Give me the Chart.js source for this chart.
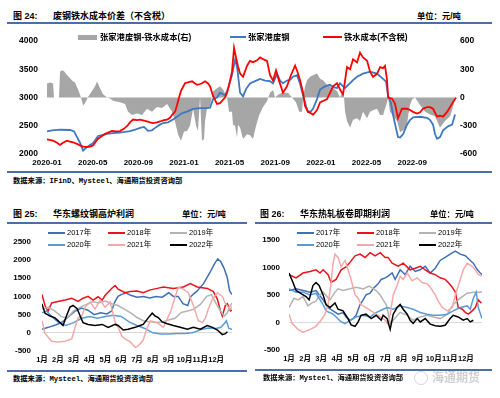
<!DOCTYPE html>
<html>
<head>
<meta charset="utf-8">
<script src="https://cdn.jsdelivr.net/npm/chart.js@4.4.0/dist/chart.umd.min.js"></script>
<style>
  body { margin: 0; background: #fff; }
  #page { position: relative; width: 500px; height: 398px; overflow: hidden;
          font-family: "Liberation Sans", "Noto Sans CJK SC", sans-serif; color: #000; }
  .t { position: absolute; white-space: nowrap; line-height: 12px; }
  .title { font-weight: bold; font-size: 9px; }
  .unit { font-weight: bold; font-size: 8.3px; }
  .rule { position: absolute; height: 2px; background: #4a6ea6; }
  .src { font-family: "Liberation Mono", "Noto Sans CJK SC", monospace; font-weight: bold; font-size: 7.3px; }
  .leg { font-size: 7.5px; }
  .leg24 { font-size: 8.3px; font-weight: bold; }
  .sw { position: absolute; height: 2px; }
  canvas { position: absolute; }
</style>
</head>
<body>
<div id="page">
  <!-- figure 24 -->
  <div class="t title" style="left:13px;top:10px">图 24:</div>
  <div class="t title" style="left:53px;top:10px">废钢铁水成本价差（不含税）</div>
  <div class="t unit" style="left:417px;top:10px">单位：元/吨</div>
  <div class="rule" style="left:7px;top:22px;width:485px"></div>
  <canvas id="c24" width="500" height="145" style="left:0;top:28px"></canvas>
  <div class="sw" style="left:78px;top:35px;width:19px;height:5px;background:#a6a6a6"></div>
  <div class="t leg24" style="left:100px;top:31px">张家港废钢-铁水成本(右)</div>
  <div class="sw" style="left:230px;top:36px;width:16px;background:#3d78c1"></div>
  <div class="t leg24" style="left:248px;top:31px">张家港废钢</div>
  <div class="sw" style="left:323px;top:36px;width:19px;background:#ff0000"></div>
  <div class="t leg24" style="left:344px;top:31px">铁水成本(不含税)</div>
  <div class="rule" style="left:7px;top:171px;width:485px"></div>
  <div class="t src" style="left:13px;top:175px">数据来源：IFinD、Mysteel、海通期货投资咨询部</div>

  <!-- figure 25 -->
  <div class="t title" style="left:13px;top:208px">图 25:</div>
  <div class="t title" style="left:53px;top:208px">华东螺纹钢高炉利润</div>
  <div class="t unit" style="left:182px;top:208px">单位：元/吨</div>
  <div class="rule" style="left:7px;top:222px;width:240px"></div>
  <canvas id="c25" width="250" height="143" style="left:0;top:226px"></canvas>
  <div id="leg25"></div>
  <div class="rule" style="left:7px;top:370px;width:240px"></div>
  <div class="t src" style="left:13px;top:373px">数据来源：Mysteel、海通期货投资咨询部</div>

  <!-- figure 26 -->
  <div class="t title" style="left:260px;top:208px">图 26:</div>
  <div class="t title" style="left:300px;top:208px">华东热轧板卷即期利润</div>
  <div class="t unit" style="left:430px;top:208px">单位：元/吨</div>
  <div class="rule" style="left:255px;top:222px;width:237px"></div>
  <canvas id="c26" width="250" height="143" style="left:250px;top:226px"></canvas>
  <div id="leg26"></div>
  <div class="rule" style="left:255px;top:369px;width:237px"></div>
  <div class="t src" style="left:263px;top:372px">数据来源：Mysteel、海通期货投资咨询部</div>
  <div style="position:absolute;left:414px;top:371px;width:12px;height:12px;border:1.5px solid #d4d4d4;border-radius:7px"></div>
  <div class="t" style="left:432px;top:371px;font-size:12px;line-height:14px;font-weight:bold;color:#d0d0d0">海通期货</div>
</div>

<script>
// ---- fig 24: months since 2020-01, value ----
const topTickLabels = ['2020-01', '2020-05', '2020-09', '2021-01', '2021-05', '2021-09', '2022-01', '2022-05', '2022-09'];

const scrapPrice = [[0,2400],[0.44,2420],[1.14,2430],[2.02,2425],[2.37,2400],[2.63,2300],[2.89,2200],[3.16,2060],
  [3.42,2110],[3.77,2160],[4.03,2190],[4.47,2320],[4.91,2340],[5.26,2356],[5.78,2370],[6.40,2380],[6.84,2390],
  [7.27,2407],[7.71,2430],[8.15,2463],[8.50,2480],[8.85,2410],[9.20,2420],[9.47,2463],[9.90,2520],[10.17,2548],
  [10.60,2560],[11.04,2610],[11.39,2660],[11.66,2700],[11.92,2730],[12.27,2750],[12.80,2800],[13.41,2814],
  [14.02,2814],[14.29,2820],[14.55,2970],[14.90,3000],[15.16,3085],[15.60,3040],[15.86,3150],[16.21,3400],
  [16.48,3670],[16.65,3550],[16.92,3085],[17.18,3020],[17.44,3150],[17.79,3250],[18.23,3290],[18.67,3330],
  [19.11,3300],[19.54,3290],[19.81,3250],[20.16,3420],[20.42,3300],[20.68,3254],[21.03,3300],[21.30,3311],
  [21.56,3370],[21.91,3395],[22.17,3250],[22.44,3034],[22.70,2850],[22.87,2746],[23.14,2760],[23.31,2802],
  [23.66,2972],[23.93,3141],[24.36,3198],[24.80,3226],[25.15,3180],[25.42,3170],[25.68,3254],[25.94,3200],
  [26.12,3170],[26.56,3254],[26.82,3310],[27.17,3367],[27.69,3424],[28.31,3460],[28.92,3424],[29.45,3330],
  [29.71,3283],[29.89,3034],[30.15,2900],[30.32,2700],[30.59,2450],[30.76,2300],[30.94,2293],[31.20,2350],
  [31.55,2520],[31.81,2600],[32.08,2650],[32.69,2660],[33.30,2640],[33.57,2600],[33.83,2520],[34.01,2350],
  [34.18,2270],[34.44,2300],[34.71,2420],[35.14,2490],[35.50,2520],[35.76,2700]];

const hotMetalCost = [[0,2260],[0.53,2237],[0.88,2200],[1.14,2160],[1.40,2200],[1.75,2237],[2.02,2220],[2.28,2208],
  [2.63,2180],[2.89,2152],[3.16,2130],[3.51,2124],[3.77,2130],[4.03,2152],[4.29,2220],[4.47,2271],[4.82,2320],
  [5.08,2356],[5.35,2380],[5.70,2407],[6.05,2400],[6.40,2407],[6.75,2450],[7.01,2492],[7.27,2560],[7.54,2610],
  [7.89,2600],[8.15,2610],[8.50,2590],[8.76,2576],[9.03,2560],[9.29,2548],[9.64,2560],[9.90,2576],[10.25,2600],
  [10.52,2610],[10.78,2640],[10.96,2695],[11.22,2750],[11.39,2864],[11.57,3000],[11.74,3118],[12.09,3254],
  [12.36,3270],[12.71,3288],[12.97,3250],[13.15,3226],[13.41,3240],[13.58,3254],[13.85,3288],[14.11,3250],
  [14.29,3198],[14.55,3028],[14.90,2887],[15.16,2900],[15.34,2943],[15.60,3000],[15.78,3085],[16.04,3300],
  [16.21,3458],[16.39,3880],[16.56,3712],[16.74,3550],[16.92,3424],[17.18,3367],[17.53,3565],[17.79,3650],
  [18.05,3627],[18.41,3660],[18.67,3712],[18.93,3680],[19.28,3650],[19.54,3400],[19.81,3300],[20.07,3480],
  [20.33,3300],[20.68,3085],[21.03,3200],[21.38,3400],[21.74,3565],[21.91,3480],[22.17,3311],[22.44,3085],
  [22.61,2850],[22.87,2746],[23.14,2720],[23.31,2695],[23.66,2780],[23.93,2915],[24.54,2972],[25.07,3198],
  [25.42,3254],[25.68,3141],[25.94,3056],[26.29,3540],[26.56,3500],[26.82,3678],[27.17,3620],[27.43,3797],
  [27.69,3712],[28.05,3650],[28.31,3458],[28.57,3367],[28.92,3420],[29.19,3540],[29.45,3520],[29.62,3560],
  [29.80,3311],[29.89,3000],[30.24,2980],[30.50,2887],[30.76,2632],[31.11,2802],[31.55,2802],[31.81,2780],
  [32.08,2746],[32.43,2717],[32.69,2740],[32.95,2802],[33.30,2830],[33.57,2830],[33.83,2802],[34.18,2661],
  [34.44,2680],[34.71,2661],[35.06,2746],[35.32,2830],[35.58,2915],[35.85,3000]];

const scrapSpread = [[0,150],[0.26,160],[0.53,150],[0.61,0],[1.05,0],[1.14,275],[1.31,290],[1.49,280],[1.75,240],
  [2.02,205],[2.28,170],[2.45,160],[2.72,85],[2.98,0],[3.16,-85],[3.33,-60],[3.59,5],[3.94,70],[4.21,120],
  [4.38,170],[4.65,100],[4.91,35],[5.26,0],[5.52,-10],[5.78,-35],[6.40,-50],[6.84,-68],[7.10,-150],[7.45,-185],
  [7.89,-170],[8.33,-185],[8.76,-120],[9.20,-150],[9.64,-100],[10.08,-110],[10.52,-68],[10.96,-150],[11.22,-255],
  [11.48,-390],[11.74,-460],[12.01,-360],[12.27,-356],[12.53,-300],[12.80,-120],[13.06,-300],[13.23,-356],
  [13.41,0],[13.58,-460],[13.76,-440],[13.85,-250],[14.02,-120],[14.29,-85],[14.55,68],[14.90,100],[15.16,120],
  [15.43,85],[15.78,0],[15.95,-150],[16.21,-150],[16.30,-290],[16.48,-300],[16.65,-424],[16.74,-290],[16.92,-320],
  [17.18,-440],[17.53,-390],[17.79,-400],[18.05,-440],[18.32,-300],[18.58,-190],[18.93,-100],[19.28,-40],
  [19.54,50],[19.81,80],[19.98,0],[20.25,30],[20.60,50],[21.12,50],[21.47,0],[21.82,-50],[22.09,-150],[22.35,-150],
  [22.44,0],[22.61,120],[22.79,185],[23.05,220],[23.31,237],[23.66,255],[23.93,200],[24.19,185],[24.54,135],
  [24.80,120],[25.07,100],[25.42,68],[25.68,0],[25.85,50],[26.03,0],[26.12,-150],[26.29,-250],[26.56,-320],
  [26.82,-237],[27.17,-220],[27.43,-250],[27.69,-150],[28.05,-220],[28.31,-150],[28.57,-135],[28.92,-120],
  [29.19,-185],[29.45,-185],[29.80,-50],[29.89,0],[30.06,-150],[30.32,-190],[30.68,-250],[30.94,-370],[31.20,-350],
  [31.55,-305],[31.64,-200],[31.81,-80],[31.99,-20],[32.25,0],[32.69,-80],[33.13,-150],[33.57,-180],[34.01,-200],
  [34.44,-320],[34.88,-250],[35.32,-200],[35.58,-100],[35.76,0]];

// ---- fig 25 / 26: month of year (0 = 1月初), profit ----
const monthLabels = ['1月', '2月', '3月', '4月', '5月', '6月', '7月', '8月', '9月', '10月', '11月', '12月'];
const yearNames = ['2017年', '2018年', '2019年', '2020年', '2021年', '2022年'];
const yearColors = ['#3f70b6', '#e8141b', '#b3b3b3', '#5b9bd5', '#f5a8a8', '#000000'];

const rebar2017 = [[0,100],[0.4,150],[0.9,220],[1.3,300],[1.7,450],[2.1,600],[2.5,680],[2.9,620],[3.3,500],[3.7,550],
  [4.1,520],[4.4,600],[4.6,850],[4.8,1000],[5.0,1050],[5.3,1100],[5.6,1030],[6.0,980],[6.4,1000],[6.8,960],[7.2,1000],
  [7.6,980],[8.0,1100],[8.3,1000],[8.6,1000],[8.9,800],[9.2,750],[9.4,1000],[9.8,1150],[10.2,1350],[10.6,1650],
  [10.9,1900],[11.1,2030],[11.3,1950],[11.5,1770],[11.7,1520],[11.85,1150],[12.0,1050]];
const rebar2018 = [[0,1050],[0.19,750],[0.38,590],[0.61,820],[1.01,860],[1.46,900],[1.88,950],[2.28,860],[2.59,950],
  [2.91,1000],[3.23,900],[3.54,990],[3.80,900],[3.99,1030],[4.43,1230],[4.62,1300],[4.81,1200],[5.25,1100],[5.57,1135],
  [6.01,1150],[6.39,1100],[6.84,1180],[7.28,1220],[7.66,1260],[8.29,1220],[8.92,1260],[9.37,1350],[9.81,1260],
  [10.44,1220],[10.82,1130],[11.08,920],[11.27,600],[11.39,460],[11.58,750],[11.71,800],[11.90,600],[12.0,620]];
const rebar2019 = [[0,650],[0.4,700],[0.8,600],[1.2,450],[1.6,400],[2.0,600],[2.4,700],[2.8,780],[3.2,850],[3.6,820],
  [4.0,870],[4.4,800],[4.8,750],[5.2,650],[5.6,550],[6.0,420],[6.4,330],[6.8,300],[7.2,280],[7.6,300],[8.0,350],
  [8.4,400],[8.8,560],[9.2,600],[9.6,650],[10.0,780],[10.4,1000],[10.7,1050],[11.0,800],[11.3,580],[11.5,460],
  [11.7,550],[11.9,750],[12.0,820]];
const rebar2020 = [[0,550],[0.3,600],[0.6,450],[1.0,300],[1.5,200],[2.0,280],[2.5,400],[3.0,450],[3.5,400],[4.0,450],
  [4.5,480],[5.0,450],[5.5,300],[6.0,200],[6.5,120],[7.0,0],[7.5,-30],[8.0,-30],[8.5,-20],[9.0,-20],[9.5,0],[10.0,80],
  [10.5,130],[11.0,120],[11.3,150],[11.5,250],[11.65,330],[11.8,120],[12.0,100]];
const rebar2021 = [[0,330],[0.19,-17],[0.61,-230],[1.01,-250],[1.46,-230],[1.88,-170],[2.09,150],[2.28,410],[2.51,460],
  [2.72,700],[3.04,850],[3.35,650],[3.67,900],[3.99,700],[4.30,850],[4.62,300],[4.81,150],[5.06,-100],[5.25,-170],
  [5.57,-250],[5.89,-400],[6.08,-360],[6.39,-200],[6.65,150],[6.84,330],[7.28,280],[7.66,150],[8.10,560],[8.42,1000],
  [8.61,1250],[8.92,1200],[9.24,1100],[9.56,750],[9.87,330],[10.13,280],[10.32,400],[10.51,660],[10.76,920],
  [11.08,1100],[11.39,1000],[11.58,800],[11.90,640],[12.0,720]];
const rebar2022 = [[0,795],[0.19,540],[0.51,460],[0.82,410],[1.14,280],[1.33,200],[1.58,500],[1.77,710],[1.96,750],
  [2.22,660],[2.41,460],[2.59,280],[2.91,230],[3.35,200],[3.80,230],[4.18,150],[4.62,230],[4.81,200],[5.13,77],
  [5.44,100],[5.89,150],[6.20,200],[6.39,230],[6.71,410],[6.96,540],[7.15,460],[7.34,420],[7.59,300],[7.91,250],
  [8.29,200],[8.73,150],[9.18,100],[9.56,150],[10.0,100],[10.44,200],[10.76,150],[11.08,77],[11.39,-50],[11.58,-25],
  [11.71,30]];

const coil2017 = [[0,580],[0.44,610],[0.87,580],[1.31,550],[1.68,580],[1.93,480],[2.12,410],[2.43,270],[2.74,210],
  [3.05,150],[3.36,180],[3.55,100],[3.80,40],[3.99,70],[4.17,130],[4.42,325],[4.61,410],[4.79,500],[5.04,530],
  [5.23,610],[5.54,700],[5.73,780],[5.98,810],[6.16,840],[6.41,897],[6.60,782],[6.91,955],[7.22,868],[7.53,1020],
  [7.85,925],[8.16,955],[8.47,1020],[8.78,897],[9.09,985],[9.40,1125],[9.71,1180],[10.02,1240],[10.34,1295],
  [10.65,1240],[10.96,1210],[11.27,1125],[11.46,1075],[11.71,955],[11.89,897],[12.0,870]];
const coil2018 = [[0,868],[0.44,810],[0.87,897],[1.31,925],[1.68,955],[1.93,897],[2.12,955],[2.43,868],[2.62,725],
  [2.93,782],[3.24,955],[3.55,1010],[3.80,1095],[4.11,1210],[4.42,1240],[4.73,1180],[5.04,1267],[5.35,1210],
  [5.67,1267],[5.98,1180],[6.16,1180],[6.41,1075],[6.79,1020],[7.10,1075],[7.53,955],[7.85,985],[8.16,1020],
  [8.47,955],[8.78,897],[9.09,868],[9.40,810],[9.71,782],[9.90,725],[10.15,640],[10.34,553],[10.52,270],[10.77,240],
  [10.96,183],[11.15,150],[11.39,210],[11.58,270],[11.77,410],[11.96,350]];
const coil2019 = [[0,270],[0.31,440],[0.56,410],[0.87,470],[1.18,300],[1.43,355],[1.68,385],[1.93,500],[2.12,550],
  [2.55,410],[2.86,550],[3.05,610],[3.36,580],[3.80,610],[4.17,640],[4.61,610],[4.98,660],[5.42,580],[5.67,500],
  [5.85,410],[6.04,325],[6.16,183],[6.29,-17],[6.48,40],[6.91,183],[7.35,130],[7.72,40],[8.16,100],[8.59,130],
  [8.97,100],[9.40,70],[9.84,150],[10.21,325],[10.65,440],[11.08,530],[11.46,550],[11.89,550],[12.0,560]];
const coil2020 = [[0,610],[0.44,550],[0.87,550],[1.31,500],[1.68,530],[2.12,325],[2.30,210],[2.74,150],[2.93,100],
  [3.24,10],[3.49,-20],[3.80,40],[4.17,100],[4.61,130],[5.04,100],[5.42,180],[5.85,240],[6.10,270],[6.48,240],
  [6.91,300],[7.35,270],[7.72,240],[8.16,180],[8.59,150],[8.97,130],[9.40,130],[9.84,150],[10.21,210],[10.65,270],
  [11.08,300],[11.27,240],[11.46,440],[11.64,550],[11.77,270],[12.0,70]];
const coil2021 = [[0,155],[0.19,-17],[0.56,-125],[0.87,-180],[1.31,-125],[1.68,-70],[1.99,40],[2.24,150],[2.43,325],
  [2.62,725],[2.74,1070],[2.86,1240],[3.05,1180],[3.24,1010],[3.49,1125],[3.67,955],[3.86,780],[4.11,500],[4.30,440],
  [4.48,325],[4.79,270],[5.11,210],[5.42,150],[5.67,100],[5.98,40],[6.16,-30],[6.29,150],[6.48,500],[6.72,670],
  [6.91,840],[7.10,780],[7.35,897],[7.66,755],[7.97,810],[8.28,725],[8.59,700],[8.78,640],[9.09,500],[9.28,385],
  [9.53,270],[9.84,210],[10.15,270],[10.34,500],[10.65,780],[10.83,955],[11.08,1075],[11.39,1020],[11.58,955],
  [11.77,868],[12.0,840]];
const coil2022 = [[0,897],[0.25,725],[0.44,580],[0.75,525],[1.06,470],[1.25,410],[1.49,670],[1.68,725],[1.87,670],
  [2.12,500],[2.30,325],[2.55,270],[2.86,355],[3.05,240],[3.36,210],[3.67,70],[3.86,-45],[4.11,-70],[4.30,10],
  [4.48,130],[4.79,150],[5.11,70],[5.42,130],[5.73,40],[5.85,130],[6.10,70],[6.29,-125],[6.48,150],[6.72,270],
  [6.91,325],[7.10,240],[7.35,150],[7.53,40],[7.72,-17],[7.97,70],[8.16,10],[8.47,70],[8.78,-30],[9.09,-60],
  [9.40,-70],[9.71,-50],[10.02,70],[10.21,130],[10.52,100],[10.83,40],[11.08,70],[11.27,10],[11.46,40]];

const rebarSeries = [rebar2017, rebar2018, rebar2019, rebar2020, rebar2021, rebar2022];
const coilSeries = [coil2017, coil2018, coil2019, coil2020, coil2021, coil2022];

const toXY = pts => pts.map(p => ({ x: p[0], y: p[1] }));
const FONT = '"Liberation Sans", "Noto Sans CJK SC", sans-serif';
const noGrid = { display: false, drawTicks: false };
const plain = v => String(v);

// fig 24
new Chart(document.getElementById('c24'), {
  type: 'line',
  data: {
    datasets: [
      { label: '铁水成本(不含税)', data: toXY(hotMetalCost), yAxisID: 'yL', borderColor: '#ff0000', borderWidth: 1.8, pointRadius: 0, tension: 0 },
      { label: '张家港废钢', data: toXY(scrapPrice), yAxisID: 'yL', borderColor: '#3d78c1', borderWidth: 1.8, pointRadius: 0, tension: 0 },
      { label: '张家港废钢-铁水成本(右)', data: toXY(scrapSpread), yAxisID: 'yR', borderWidth: 0, pointRadius: 0,
        backgroundColor: '#a6a6a6', fill: 'origin', tension: 0 }
    ]
  },
  options: {
    responsive: false, animation: false, devicePixelRatio: 1,
    layout: { padding: { top: 8, left: 0, right: 0, bottom: 0 } },
    plugins: { legend: { display: false }, tooltip: { enabled: false } },
    scales: {
      x: {
        type: 'linear', min: -0.09, max: 35.93,
        grid: noGrid, border: { display: false },
        afterBuildTicks: s => { s.ticks = topTickLabels.map((l, i) => ({ value: i * 4 })); },
        afterFit: s => { s.height = 19; },
        ticks: { autoSkip: false, maxRotation: 0, padding: 4, color: '#000',
                 font: { family: FONT, size: 8, weight: 'bold' },
                 callback: v => topTickLabels[Math.round(v / 4)] }
      },
      yL: {
        position: 'left', min: 2000, max: 4000,
        grid: noGrid, border: { display: false },
        afterFit: s => { s.width = 46; },
        ticks: { stepSize: 500, padding: 8, color: '#000', callback: plain,
                 font: { family: FONT, size: 8.5, weight: 'bold' } }
      },
      yR: {
        position: 'right', min: -600, max: 600,
        grid: noGrid, border: { display: false },
        afterFit: s => { s.width = 43; },
        ticks: { stepSize: 300, padding: 3, color: '#000', callback: plain,
                 font: { family: FONT, size: 8.5, weight: 'bold' } }
      }
    }
  }
});

// fig 25 / 26
function yearChart(canvasId, series, yMin, yMax, axisW, labelPad, rightPad, xAxisH) {
  return new Chart(document.getElementById(canvasId), {
    type: 'line',
    data: {
      datasets: series.map((s, i) => ({
        label: yearNames[i], data: toXY(s), borderColor: yearColors[i],
        borderWidth: 1.5, pointRadius: 0, tension: 0
      })).reverse()
    },
    options: {
      responsive: false, animation: false, devicePixelRatio: 1,
      layout: { padding: { top: 7, left: 0, right: rightPad, bottom: 0 } },
      plugins: { legend: { display: false }, tooltip: { enabled: false } },
      scales: {
        x: {
          type: 'linear', min: 0, max: 12,
          grid: noGrid, border: { display: false },
          afterBuildTicks: s => { s.ticks = monthLabels.map((l, i) => ({ value: i })); },
          afterFit: s => { s.height = xAxisH; },
          ticks: { autoSkip: false, maxRotation: 0, padding: 4, color: '#000',
                   font: { family: FONT, size: 7.5, weight: 'bold' },
                   callback: v => monthLabels[Math.round(v)] }
        },
        y: {
          min: yMin, max: yMax,
          grid: { drawTicks: false, lineWidth: 1,
                  color: c => c.tick && c.tick.value === 0 ? '#d9d9d9' : 'rgba(0,0,0,0)' },
          border: { display: false },
          afterFit: s => { s.width = axisW; },
          ticks: { stepSize: 500, padding: labelPad, color: '#000', callback: plain,
                   font: { family: FONT, size: 8, weight: 'bold' } }
        }
      }
    }
  });
}

yearChart('c25', rebarSeries, -500, 2500, 42, 11, 18, 18);
yearChart('c26', coilSeries, -500, 1500, 39, 9, 18, 19);

// legends for fig 25 / 26
function buildLegend(holderId, x0) {
  const holder = document.getElementById(holderId);
  const cols = [0, 60, 122];
  yearNames.forEach((name, i) => {
    const cx = x0 + cols[i % 3];
    const cy = i < 3 ? 233 : 245;
    const sw = document.createElement('div');
    sw.className = 'sw';
    sw.style.cssText = `left:${cx}px;top:${cy - 1}px;width:17px;background:${yearColors[i]}`;
    const tx = document.createElement('div');
    tx.className = 't leg';
    tx.style.cssText = `left:${cx + 19}px;top:${cy - 6}px`;
    tx.textContent = name;
    holder.appendChild(sw);
    holder.appendChild(tx);
  });
}
buildLegend('leg25', 48);
buildLegend('leg26', 297);
</script>
</body>
</html>
